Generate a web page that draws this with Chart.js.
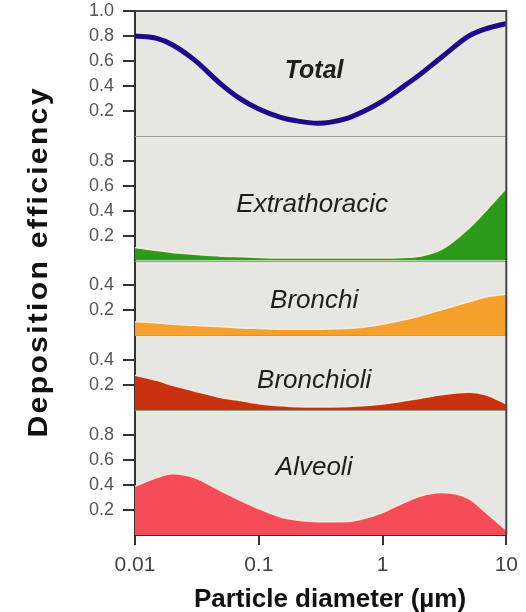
<!DOCTYPE html>
<html>
<head>
<meta charset="utf-8">
<script src="https://cdn.jsdelivr.net/npm/chart.js@4.4.1/dist/chart.umd.min.js"></script>
<style>
  html, body { margin: 0; padding: 0; background: #ffffff; }
  #wrap { width: 526px; height: 612px; }
</style>
</head>
<body>
<div id="wrap"><canvas id="chart" width="526" height="612"></canvas></div>
<script>
// Particle diameter (µm), shared by all regions
const diameters = [0.01, 0.015, 0.02, 0.03, 0.05, 0.07, 0.1, 0.15, 0.2, 0.3, 0.5, 0.7, 1, 1.5, 2, 3, 5, 7, 10];

// Deposition efficiency per region
const total         = [0.80, 0.78, 0.73, 0.61, 0.41, 0.30, 0.215, 0.148, 0.12, 0.10, 0.135, 0.195, 0.278, 0.40, 0.49, 0.63, 0.80, 0.86, 0.90];
const extrathoracic = [0.105, 0.08, 0.065, 0.05, 0.035, 0.03, 0.025, 0.02, 0.02, 0.02, 0.02, 0.02, 0.02, 0.025, 0.035, 0.09, 0.26, 0.41, 0.58];
const bronchi       = [0.11, 0.10, 0.09, 0.08, 0.07, 0.06, 0.055, 0.05, 0.05, 0.05, 0.055, 0.065, 0.09, 0.125, 0.155, 0.205, 0.27, 0.31, 0.33];
const bronchioli    = [0.28, 0.24, 0.20, 0.155, 0.10, 0.078, 0.052, 0.035, 0.027, 0.025, 0.028, 0.035, 0.05, 0.075, 0.095, 0.125, 0.145, 0.12, 0.05];
const alveoli       = [0.39, 0.46, 0.49, 0.46, 0.35, 0.28, 0.21, 0.145, 0.12, 0.107, 0.107, 0.13, 0.18, 0.26, 0.31, 0.34, 0.29, 0.17, 0.04];

// Axis ticks
const xTickValues = [0.01, 0.1, 1, 10];
const xTickLabels = ['0.01', '0.1', '1', '10'];
const panelNames  = ['Total', 'Extrathoracic', 'Bronchi', 'Bronchioli', 'Alveoli'];
const panelMax    = [1, 1, 0.6, 0.6, 1];
const panelTicks  = [
  [0.2, 0.4, 0.6, 0.8, 1.0],
  [0.2, 0.4, 0.6, 0.8],
  [0.2, 0.4],
  [0.2, 0.4],
  [0.2, 0.4, 0.6, 0.8]
];

const FONT = '"Liberation Sans", Arial, Helvetica, sans-serif';
const panelIds = ['yTotal', 'yExtra', 'yBronchi', 'yBronchioli', 'yAlveoli'];
const seriesValues = [total, extrathoracic, bronchi, bronchioli, alveoli];
const fillColors = [null, '#2e9a1c', '#f5a02a', '#c9320e', '#f64c58'];

function yScale(i) {
  return {
    type: 'linear',
    position: 'left',
    stack: 'panels',
    stackWeight: panelMax[i],
    min: 0,
    max: panelMax[i],
    afterBuildTicks: s => { s.ticks = panelTicks[i].map(v => ({ value: v })); },
    afterFit: s => {
      s.width = 135;
      // let the top label hang over the frame instead of pushing it down
      s.paddingTop = 0;
      s.paddingBottom = 0;
    },
    ticks: {
      autoSkip: false,
      font: { family: FONT, size: 18 },
      color: '#555555',
      padding: 9,
      callback: v => Number(v).toFixed(1)
    },
    grid: { drawOnChartArea: false, drawTicks: true, tickLength: 12, color: '#333333', lineWidth: 2 },
    border: { display: true, color: '#333333', width: 2 }
  };
}

const scales = {
  x: {
    type: 'logarithmic',
    position: 'bottom',
    min: 0.01,
    max: 10,
    afterBuildTicks: s => { s.ticks = xTickValues.map(v => ({ value: v })); },
    afterFit: s => { s.height = 77; },
    ticks: {
      autoSkip: false,
      maxRotation: 0,
      font: { family: FONT, size: 21 },
      color: '#444444',
      padding: 8,
      callback: (v, i) => xTickLabels[i]
    },
    grid: { drawOnChartArea: false, drawTicks: true, tickLength: 10, color: '#333333', lineWidth: 2 },
    border: { display: true, color: '#333333', width: 2 }
  }
};
// left-stacked axes: the last one defined ends up on top
for (let i = panelNames.length - 1; i >= 0; i--) scales[panelIds[i]] = yScale(i);

// where each region name sits, in data units of its own panel
const labelAnchors = [
  { x: 0.28, y: 0.52, bold: true },
  { x: 0.27, y: 0.45 },
  { x: 0.28, y: 0.28 },
  { x: 0.28, y: 0.24 },
  { x: 0.28, y: 0.54 }
];

const panelDecor = {
  id: 'panelDecor',
  beforeDraw(chart) {
    const { ctx, chartArea: a } = chart;
    ctx.save();
    ctx.fillStyle = '#e6e6e2';
    ctx.fillRect(a.left, a.top, a.right - a.left, a.bottom - a.top);
    ctx.restore();
  },
  beforeDatasetsDraw(chart) {
    const { ctx, chartArea: a } = chart;
    ctx.save();
    ctx.strokeStyle = '#9a9a96';
    ctx.lineWidth = 1;
    for (let i = 0; i < panelIds.length - 1; i++) {
      const y = Math.round(chart.scales[panelIds[i]].bottom) + 0.5;
      ctx.beginPath();
      ctx.moveTo(a.left, y);
      ctx.lineTo(a.right, y);
      ctx.stroke();
    }
    ctx.restore();
  },
  afterDatasetsDraw(chart) {
    const { ctx, chartArea: a } = chart;
    ctx.save();
    ctx.strokeStyle = '#444444';
    ctx.lineWidth = 2;
    ctx.beginPath();
    ctx.moveTo(a.left, a.top);
    ctx.lineTo(a.right, a.top);
    ctx.lineTo(a.right, a.bottom);
    ctx.stroke();

    ctx.fillStyle = '#1e1e1e';
    ctx.textAlign = 'center';
    ctx.textBaseline = 'middle';
    panelNames.forEach((name, i) => {
      const an = labelAnchors[i];
      ctx.font = (an.bold ? 'italic bold 25px ' : 'italic 26px ') + FONT;
      const x = chart.scales.x.getPixelForValue(an.x);
      const y = chart.scales[panelIds[i]].getPixelForValue(an.y);
      ctx.fillText(name, x, y);
    });
    ctx.restore();
  },
  afterDraw(chart) {
    const { ctx } = chart;
    ctx.save();
    ctx.fillStyle = '#111111';
    ctx.font = 'bold 26px ' + FONT;
    ctx.textAlign = 'center';
    ctx.textBaseline = 'alphabetic';
    ctx.fillText('Particle diameter (µm)', 330, 607);

    // vertical title, slightly widened along its baseline
    ctx.translate(40, 263);
    ctx.rotate(-Math.PI / 2);
    ctx.scale(1.12, 1);
    ctx.font = 'bold 27px ' + FONT;
    ctx.textBaseline = 'middle';
    ctx.letterSpacing = '2px';
    ctx.fillText('Deposition efficiency', 1, 0);
    ctx.restore();
  }
};

new Chart(document.getElementById('chart'), {
  type: 'line',
  data: {
    datasets: panelNames.map((name, i) => ({
      label: name,
      yAxisID: panelIds[i],
      data: diameters.map((d, k) => ({ x: d, y: seriesValues[i][k] })),
      borderColor: i === 0 ? '#1b0b8a' : 'rgba(255, 238, 228, 0.85)',
      borderWidth: i === 0 ? 5 : 1.5,
      backgroundColor: fillColors[i] || 'transparent',
      fill: i === 0 ? false : 'origin',
      pointRadius: 0,
      cubicInterpolationMode: 'monotone'
    }))
  },
  options: {
    responsive: false,
    animation: false,
    devicePixelRatio: 1,
    layout: { padding: { top: 11, right: 19, left: 0, bottom: 0 } },
    plugins: { legend: { display: false }, tooltip: { enabled: false } },
    scales: scales
  },
  plugins: [panelDecor]
});
</script>
</body>
</html>
